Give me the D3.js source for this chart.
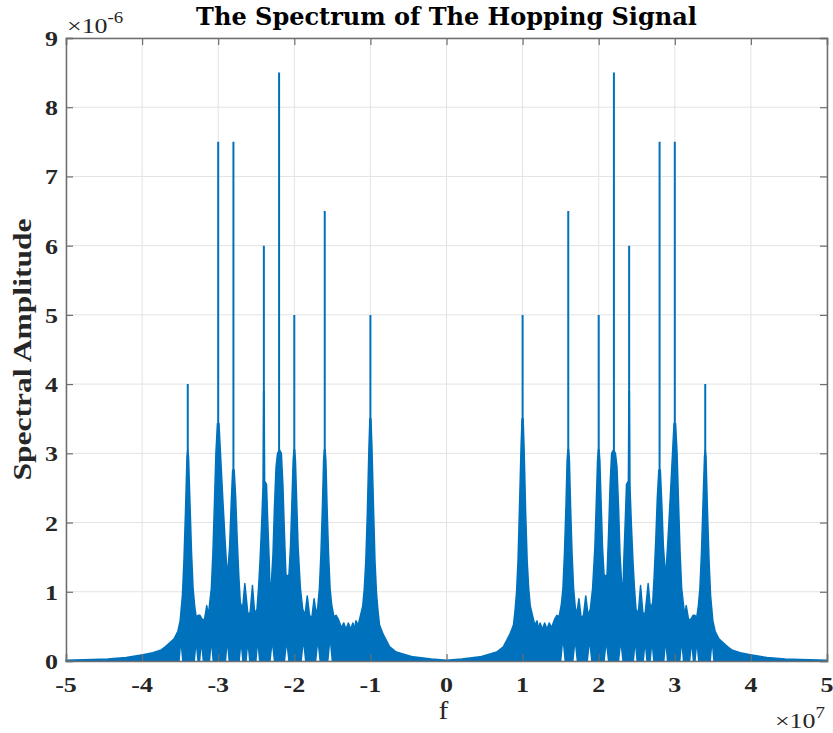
<!DOCTYPE html>
<html><head><meta charset="utf-8">
<script src="https://cdn.jsdelivr.net/npm/d3@7"></script>
<style>
body{margin:0;background:#fff}svg{display:block}
.tm{font-family:"Liberation Serif","Times New Roman",Times,serif;}
.ti{font-family:"DejaVu Serif",serif;}
</style>
</head><body>
<svg id="c" width="833" height="733"></svg>
<script>
// ---- data (frequency in units of 1e7 Hz, amplitude in units of 1e-6) ----
const xTicks = [-5,-4,-3,-2,-1,0,1,2,3,4,5];
const yTicks = [0,1,2,3,4,5,6,7,8,9];
// hopping tones (positive side; the spectrum is mirrored at negative f)
const toneFreq = [1.0, 1.6, 2.0, 2.2, 2.4, 2.8, 3.0, 3.4];
const toneAmp  = [5.0, 6.5, 5.0, 8.5, 6.0, 7.5, 7.5, 4.0];
// upper envelope of the dense spectrum (positive side)
const envFreq = [0,0.2,0.44,0.66,0.75,0.83,0.88,
  0.90,0.92,0.94,0.96,0.98,0.993,1.007,1.02,1.04,1.06,1.08,1.10,1.13,
  1.16,1.19,1.21,1.23,1.26,1.29,1.32,1.35,1.38,1.42,1.45,1.48,1.51,
  1.53,1.55,1.57,1.585,1.595,1.605,1.615,1.63,1.65,1.67,1.69,
  1.71,1.74,1.77,1.80,1.83,1.86,1.89,
  1.92,1.95,1.97,1.985,1.995,2.005,2.015,2.03,2.05,2.07,2.09,
  2.11,2.13,2.15,2.17,2.195,2.22,2.24,2.26,2.28,2.30,2.32,
  2.33,2.35,2.365,2.39,2.397,2.403,2.41,2.43,2.45,2.47,2.49,
  2.52,2.55,2.58,2.61,2.65,2.68,2.71,
  2.73,2.75,2.77,2.79,2.81,2.83,2.85,2.88,
  2.91,2.94,2.97,2.99,3.01,3.03,3.05,3.07,3.09,3.11,
  3.13,3.15,3.18,3.21,3.24,3.26,3.29,3.31,
  3.33,3.35,3.37,3.39,3.40,3.41,3.43,3.45,3.47,3.50,
  3.53,3.58,3.64,3.70,3.75,3.86,3.99,4.21,4.45,4.65,5.0];
const envAmp = [0.01,0.03,0.06,0.13,0.21,0.38,0.52,
  0.72,0.98,1.45,2.25,3.10,3.50,3.50,3.05,2.15,1.45,1.05,0.80,0.66,
  0.52,0.58,0.46,0.55,0.46,0.55,0.46,0.55,0.48,0.60,0.66,0.64,0.82,
  1.05,1.55,2.25,2.90,3.05,3.05,2.90,2.25,1.55,1.05,0.80,
  0.66,0.90,0.62,0.66,0.94,0.66,0.75,
  1.05,1.65,2.35,2.90,3.05,3.05,2.90,2.35,1.65,1.25,1.22,
  1.25,1.85,2.55,3.00,3.05,3.00,2.80,2.25,1.55,1.15,1.05,
  1.45,2.05,2.55,2.60,3.90,3.90,2.55,1.95,1.45,1.05,0.75,
  0.68,1.09,0.70,0.68,1.12,0.75,0.85,
  1.25,1.75,2.35,2.76,2.76,2.25,1.65,1.20,
  1.75,2.35,3.00,3.43,3.43,3.00,2.25,1.55,1.05,0.85,
  0.66,0.80,0.60,0.60,0.66,0.66,0.64,0.80,
  1.05,1.55,2.25,2.95,3.05,2.95,2.15,1.45,0.95,0.58,
  0.43,0.32,0.26,0.20,0.16,0.12,0.09,0.05,0.03,0.02,0.01];
// lower envelope (white notches above the axis, positive side)
const lowFreq = [0,1.50,1.53,1.56,1.66,1.69,1.72,1.85,1.88,1.91,2.07,2.10,2.13,2.26,2.29,2.32,
  2.455,2.48,2.505,2.585,2.61,2.635,2.675,2.70,2.725,2.855,2.88,2.905,3.065,3.09,3.115,3.195,3.22,3.245,
  3.265,3.29,3.315,3.465,3.49,3.515,5.0];
const lowAmp = [0,0,0.35,0,0,0.32,0,0,0.32,0,0,0.30,0,0,0.30,0,
  0,0.32,0,0,0.30,0,0,0.30,0,0,0.32,0,0,0.32,0,0,0.30,0,
  0,0.30,0,0,0.32,0,0];

// ---- layout ----
const svg = d3.select("#c");
const L=66, R=827, T=38, B=661;
const x = d3.scaleLinear().domain([-5,5]).range([L,R]);
const y = d3.scaleLinear().domain([0,9]).range([B,T]);
const blue = "#0072BD";
const axisCol = "#6e6e6e";
const txtCol = "#262626";
const sx = 1.18; // horizontal stretch of the serif labels seen in the reference

// grid
const g = svg.append("g");
g.selectAll(".gx").data(xTicks).enter().append("line")
  .attr("x1",d=>x(d)).attr("x2",d=>x(d)).attr("y1",T).attr("y2",B)
  .attr("stroke","#e3e3e3").attr("stroke-width",1);
g.selectAll(".gy").data(yTicks).enter().append("line")
  .attr("x1",L).attr("x2",R).attr("y1",d=>y(d)).attr("y2",d=>y(d))
  .attr("stroke","#e3e3e3").attr("stroke-width",1);

// build full spectrum envelopes (mirror for negative frequencies)
const upPos = envFreq.map((f,i)=>[f, envAmp[i]]);
const lowPos = lowFreq.map((f,i)=>[f, lowAmp[i]]);
const upFull = upPos.slice(1).reverse().map(([f,a])=>[-f,a]).concat(upPos);
const lowFull = lowPos.slice(1).reverse().map(([f,a])=>[-f,a]).concat(lowPos);
const line = d3.line().x(d=>x(d[0])).y(d=>y(d[1]));
const pathD = line(upFull) + line(lowFull.slice().reverse()).replace(/^M/,"L") + "Z";
svg.append("path").attr("d",pathD).attr("fill",blue).attr("stroke",blue)
  .attr("stroke-width",1.5).attr("stroke-linejoin","round");

// spikes
const tones = [];
toneFreq.forEach((f,i)=>{ tones.push([f,toneAmp[i]]); tones.push([-f,toneAmp[i]]); });
svg.selectAll(".sp").data(tones).enter().append("line")
  .attr("x1",d=>x(d[0])).attr("x2",d=>x(d[0]))
  .attr("y1",y(0)).attr("y2",d=>y(d[1]))
  .attr("stroke",blue).attr("stroke-width",2);

// axes box and ticks (MATLAB style: ticks inward on all sides)
const ax = svg.append("g");
const xAxB = d3.axisBottom(x).tickValues(xTicks).tickSize(-7).tickFormat("");
const xAxT = d3.axisTop(x).tickValues(xTicks).tickSize(-7).tickFormat("");
const yAxL = d3.axisLeft(y).tickValues(yTicks).tickSize(-7).tickFormat("");
const yAxR = d3.axisRight(y).tickValues(yTicks).tickSize(-7).tickFormat("");
ax.append("g").attr("transform",`translate(0,${B})`).call(xAxB);
ax.append("g").attr("transform",`translate(0,${T})`).call(xAxT);
ax.append("g").attr("transform",`translate(${L},0)`).call(yAxL);
ax.append("g").attr("transform",`translate(${R},0)`).call(yAxR);
ax.selectAll("path.domain").attr("stroke",axisCol).attr("stroke-width",1.5);
ax.selectAll(".tick line").attr("stroke",axisCol).attr("stroke-width",1.2);

// tick labels
svg.selectAll(".xl").data(xTicks).enter().append("text").attr("class","tm")
  .attr("transform",d=>`translate(${x(d)},${B+31}) scale(${sx},1)`).attr("text-anchor","middle")
  .attr("font-weight","bold").attr("font-size",22).attr("fill",txtCol)
  .text(d=>d<0?"-"+Math.abs(d):String(d));
svg.selectAll(".yl").data(yTicks).enter().append("text").attr("class","tm")
  .attr("transform",d=>`translate(${L-8},${y(d)+8}) scale(${sx},1)`).attr("text-anchor","end")
  .attr("font-weight","bold").attr("font-size",22).attr("fill",txtCol)
  .text(d=>String(d));

// exponent labels
const e1 = svg.append("text").attr("class","tm").attr("transform",`translate(${L+1},33) scale(${sx},1)`)
  .attr("font-size",22).attr("fill",txtCol);
e1.append("tspan").text("\u00d710");
e1.append("tspan").attr("dy",-10).attr("font-size",16).text("-6");
const e2 = svg.append("text").attr("class","tm").attr("transform",`translate(${R-2},728) scale(${sx},1)`)
  .attr("text-anchor","end").attr("font-size",22).attr("fill",txtCol);
e2.append("tspan").text("\u00d710");
e2.append("tspan").attr("dy",-10).attr("font-size",16).text("7");

// axis labels and title
svg.append("text").attr("class","tm").attr("transform",`translate(${x(0)-3},719) scale(${sx},1)`).attr("text-anchor","middle")
  .attr("font-size",25).attr("fill",txtCol).text("f");
svg.append("text").attr("class","tm").attr("transform",`translate(31,${(T+B)/2}) rotate(-90)`).attr("text-anchor","middle")
  .attr("font-weight","bold").attr("font-size",26).attr("textLength",262).attr("lengthAdjust","spacingAndGlyphs")
  .attr("fill",txtCol).text("Spectral Amplitude");
svg.append("text").attr("class","ti").attr("x",(L+R)/2).attr("y",25).attr("text-anchor","middle")
  .attr("font-weight","bold").attr("font-size",24).attr("fill","#000")
  .text("The Spectrum of The Hopping Signal");
</script>
</body></html>
